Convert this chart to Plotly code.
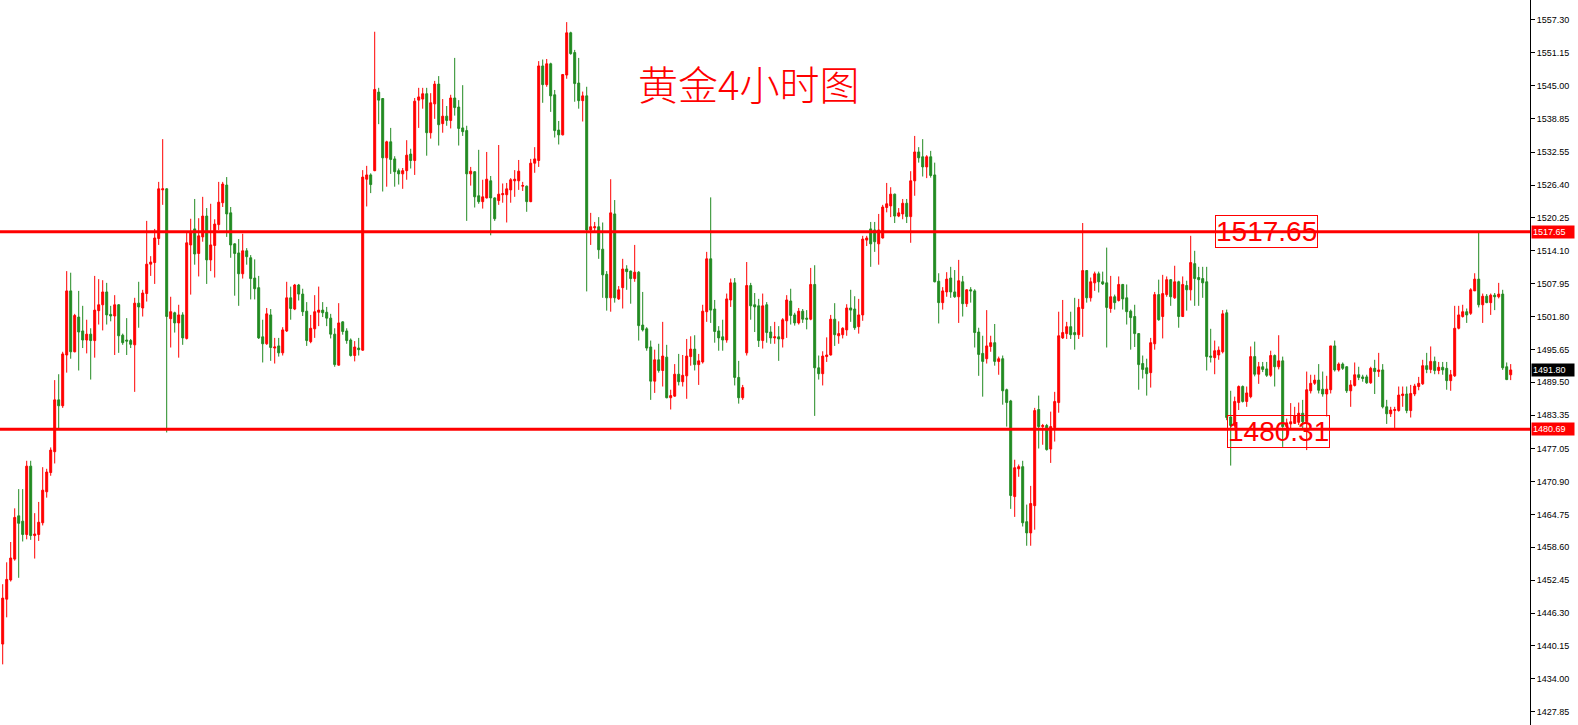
import plotly.graph_objects as go

open_ = [
1440.5, 1448.9, 1452.5, 1456.4, 1464.5, 1463.5, 1461.0, 1473.8, 1460.8, 1461.0,
1463.2, 1469.0, 1472.6, 1476.5, 1486.2, 1485.1, 1494.6, 1506.6, 1495.2, 1501.7,
1499.1, 1497.4, 1498.5, 1497.3, 1502.9, 1504.0, 1506.4, 1502.2, 1501.9, 1504.0,
1498.3, 1497.4, 1497.3, 1496.5, 1504.3, 1503.4, 1506.1, 1511.6, 1511.9, 1516.4,
1525.5, 1525.7, 1501.4, 1502.5, 1500.6, 1502.1, 1497.7, 1515.2, 1518.2, 1513.6,
1516.7, 1520.6, 1512.4, 1515.1, 1519.0, 1523.1, 1526.4, 1521.2, 1515.4, 1513.7,
1509.8, 1514.1, 1512.8, 1509.0, 1507.2, 1498.0, 1496.7, 1502.1, 1495.9, 1496.3,
1495.0, 1499.1, 1505.3, 1503.2, 1507.7, 1506.0, 1502.8, 1497.1, 1499.5, 1502.6,
1503.0, 1502.6, 1501.5, 1498.5, 1492.7, 1500.8, 1499.1, 1497.4, 1494.5, 1495.9,
1495.5, 1527.5, 1528.3, 1529.1, 1543.8, 1542.6, 1531.5, 1534.5, 1531.3, 1529.1,
1528.5, 1529.1, 1532.2, 1531.0, 1542.3, 1542.5, 1543.5, 1536.2, 1541.6, 1545.3,
1537.9, 1539.3, 1538.5, 1542.7, 1541.0, 1537.1, 1536.6, 1528.5, 1528.9, 1524.4,
1523.3, 1524.0, 1527.2, 1524.0, 1523.5, 1524.6, 1524.6, 1525.5, 1527.2, 1527.2,
1526.2, 1526.2, 1523.3, 1530.5, 1531.0, 1548.7, 1545.2, 1549.1, 1543.3, 1536.7,
1535.8, 1547.0, 1554.9, 1551.2, 1545.5, 1542.2, 1543.1, 1518.0, 1518.4, 1518.6,
1514.4, 1509.7, 1505.3, 1521.0, 1505.1, 1507.2, 1510.7, 1510.3, 1508.9, 1510.1,
1500.2, 1499.5, 1496.1, 1489.7, 1493.7, 1491.7, 1494.2, 1486.6, 1486.9, 1491.0,
1489.6, 1490.7, 1494.3, 1495.7, 1492.8, 1493.3, 1502.7, 1512.6, 1503.2, 1499.1,
1498.0, 1497.4, 1504.9, 1508.1, 1490.4, 1486.6, 1495.0, 1507.6, 1504.0, 1503.8,
1497.3, 1504.0, 1498.9, 1497.8, 1498.0, 1497.6, 1501.0, 1504.7, 1502.1, 1500.6,
1502.8, 1501.5, 1501.3, 1507.8, 1492.2, 1491.1, 1494.3, 1494.6, 1501.3, 1498.2,
1498.4, 1499.3, 1503.4, 1503.2, 1499.9, 1502.1, 1516.1, 1518.2, 1518.0, 1515.4,
1516.5, 1522.2, 1522.5, 1524.7, 1520.6, 1521.0, 1523.0, 1520.5, 1527.2, 1532.6,
1531.7, 1529.8, 1531.7, 1528.3, 1508.4, 1504.4, 1506.4, 1509.0, 1506.4, 1505.5,
1508.3, 1504.2, 1506.8, 1506.6, 1498.9, 1494.9, 1493.9, 1496.2, 1496.9, 1493.4,
1493.9, 1488.1, 1486.0, 1468.1, 1473.3, 1473.7, 1463.4, 1461.3, 1466.4, 1484.4,
1481.2, 1481.4, 1477.0, 1481.0, 1485.7, 1497.8, 1498.6, 1499.9, 1498.8, 1498.4,
1503.3, 1510.4, 1505.3, 1508.1, 1509.8, 1508.3, 1508.1, 1503.3, 1505.5, 1504.8,
1507.8, 1505.3, 1502.8, 1501.8, 1498.6, 1493.0, 1492.2, 1491.3, 1496.7, 1505.9,
1501.8, 1505.9, 1508.7, 1505.3, 1508.3, 1501.8, 1507.6, 1506.8, 1511.7, 1509.1,
1508.9, 1508.3, 1494.4, 1494.1, 1494.6, 1495.2, 1502.5, 1483.0, 1481.4, 1485.7,
1488.7, 1485.9, 1486.8, 1494.3, 1491.0, 1492.4, 1492.0, 1490.8, 1494.5, 1492.4,
1493.5, 1481.2, 1481.7, 1481.8, 1482.0, 1483.7, 1482.1, 1487.9, 1489.3, 1489.9,
1488.2, 1487.3, 1488.1, 1496.3, 1491.8, 1492.9, 1492.4, 1487.9, 1488.9, 1490.9,
1490.5, 1490.5, 1489.4, 1492.1, 1491.5, 1491.8, 1484.9, 1483.6, 1484.2, 1484.2,
1487.0, 1487.3, 1484.2, 1487.3, 1488.7, 1489.2, 1492.6, 1491.9, 1493.4, 1491.7,
1492.3, 1492.1, 1489.8, 1490.7, 1499.6, 1501.8, 1502.7, 1502.4, 1506.6, 1508.8,
1504.0, 1505.6, 1504.4, 1505.8, 1505.5, 1506.0, 1492.4, 1490.9,
]

high = [
1451.7, 1455.8, 1459.6, 1465.9, 1469.5, 1469.5, 1474.8, 1474.8, 1465.0, 1467.1,
1473.6, 1473.3, 1477.3, 1489.9, 1491.0, 1495.2, 1510.3, 1510.0, 1502.3, 1506.6,
1503.8, 1501.2, 1499.6, 1509.4, 1508.8, 1508.6, 1508.1, 1503.8, 1505.8, 1504.1,
1498.6, 1501.5, 1497.6, 1505.3, 1508.3, 1506.8, 1519.7, 1513.1, 1518.2, 1527.0,
1535.0, 1525.8, 1505.5, 1502.7, 1504.0, 1502.6, 1517.6, 1520.1, 1523.8, 1520.2,
1524.2, 1522.1, 1522.9, 1520.0, 1527.0, 1527.0, 1527.9, 1522.3, 1515.5, 1516.3,
1517.3, 1514.6, 1513.3, 1512.5, 1509.4, 1501.2, 1503.4, 1503.2, 1497.8, 1497.8,
1499.8, 1508.3, 1507.4, 1507.9, 1507.9, 1507.0, 1504.5, 1502.1, 1505.8, 1507.4,
1504.5, 1503.6, 1502.3, 1499.6, 1504.3, 1500.9, 1499.6, 1497.7, 1497.2, 1497.8,
1529.2, 1530.0, 1528.6, 1555.1, 1544.6, 1542.7, 1534.7, 1537.1, 1531.8, 1529.5,
1529.6, 1534.8, 1533.2, 1542.7, 1544.6, 1544.6, 1544.6, 1543.6, 1545.9, 1546.8,
1542.5, 1541.2, 1543.3, 1550.2, 1542.3, 1545.1, 1537.5, 1529.8, 1529.0, 1533.0,
1527.4, 1532.6, 1528.1, 1524.1, 1533.9, 1526.7, 1526.8, 1527.7, 1529.2, 1531.1,
1527.0, 1526.3, 1531.3, 1533.5, 1549.6, 1549.9, 1550.0, 1549.3, 1544.2, 1538.4,
1547.1, 1556.9, 1555.1, 1551.7, 1550.2, 1543.9, 1544.8, 1521.2, 1519.5, 1520.4,
1519.4, 1510.3, 1527.5, 1523.6, 1507.5, 1512.6, 1511.4, 1510.4, 1515.2, 1510.3,
1506.4, 1499.8, 1497.3, 1495.6, 1496.7, 1500.8, 1496.5, 1488.1, 1492.9, 1494.8,
1494.6, 1497.6, 1498.1, 1498.3, 1494.8, 1504.0, 1513.9, 1524.1, 1504.9, 1500.0,
1501.2, 1506.1, 1508.9, 1509.0, 1493.5, 1489.0, 1512.0, 1508.1, 1506.2, 1505.1,
1506.1, 1504.5, 1500.0, 1500.8, 1500.0, 1501.5, 1505.8, 1507.0, 1502.5, 1503.4,
1503.2, 1503.0, 1510.9, 1511.4, 1494.5, 1495.3, 1497.9, 1502.1, 1504.3, 1500.9,
1499.8, 1504.1, 1506.8, 1505.6, 1505.1, 1516.9, 1516.9, 1519.5, 1519.5, 1521.0,
1522.7, 1526.8, 1526.0, 1524.8, 1522.1, 1523.8, 1523.8, 1529.0, 1535.6, 1533.5,
1535.0, 1532.0, 1532.8, 1530.6, 1509.9, 1507.3, 1510.1, 1511.1, 1510.5, 1512.4,
1509.4, 1506.9, 1507.3, 1506.9, 1499.7, 1498.2, 1503.0, 1498.2, 1500.4, 1494.3,
1494.5, 1488.3, 1486.2, 1475.0, 1474.1, 1474.8, 1466.6, 1470.1, 1484.7, 1487.0,
1481.7, 1481.7, 1484.0, 1487.7, 1502.7, 1504.9, 1500.8, 1502.7, 1505.3, 1505.1,
1519.3, 1510.5, 1509.1, 1510.2, 1510.2, 1510.2, 1514.7, 1509.4, 1505.9, 1509.3,
1507.9, 1507.8, 1503.1, 1504.0, 1498.7, 1494.5, 1493.9, 1497.8, 1506.4, 1508.7,
1509.6, 1509.3, 1508.8, 1511.3, 1508.5, 1509.3, 1508.5, 1516.9, 1514.1, 1511.1,
1511.1, 1511.1, 1499.5, 1497.3, 1496.2, 1503.0, 1503.1, 1487.9, 1486.8, 1488.9,
1488.9, 1488.7, 1496.2, 1497.1, 1493.3, 1493.3, 1493.3, 1495.4, 1494.7, 1498.3,
1494.3, 1482.7, 1485.6, 1484.9, 1485.7, 1486.2, 1491.5, 1490.9, 1490.9, 1492.9,
1491.5, 1490.7, 1496.3, 1497.3, 1493.2, 1493.2, 1492.5, 1489.9, 1493.2, 1492.4,
1490.9, 1490.9, 1492.4, 1493.7, 1495.0, 1492.9, 1486.2, 1484.9, 1484.9, 1488.7,
1488.7, 1488.7, 1489.0, 1489.2, 1490.5, 1493.7, 1495.0, 1496.2, 1494.3, 1493.3,
1493.3, 1493.3, 1491.8, 1503.8, 1503.8, 1504.0, 1503.3, 1507.1, 1509.9, 1517.8,
1506.1, 1506.0, 1506.1, 1506.2, 1508.1, 1506.8, 1493.2, 1492.9,
]

low = [
1436.7, 1445.5, 1452.2, 1456.1, 1452.9, 1459.7, 1460.1, 1460.0, 1456.5, 1459.8,
1462.7, 1467.9, 1472.0, 1474.3, 1480.7, 1484.7, 1491.3, 1493.9, 1495.1, 1491.7,
1495.9, 1494.9, 1490.0, 1494.1, 1500.3, 1499.2, 1500.3, 1500.9, 1494.6, 1495.0,
1496.5, 1494.6, 1495.9, 1487.7, 1499.7, 1501.8, 1504.6, 1509.4, 1507.9, 1515.2,
1522.7, 1480.1, 1496.0, 1498.8, 1494.1, 1496.5, 1497.5, 1505.9, 1511.5, 1509.3,
1515.8, 1507.9, 1510.3, 1509.1, 1518.0, 1522.3, 1516.7, 1512.8, 1505.7, 1503.8,
1508.9, 1511.5, 1505.0, 1505.0, 1497.6, 1493.2, 1496.5, 1493.5, 1493.0, 1494.3,
1494.5, 1498.9, 1501.2, 1503.0, 1504.8, 1501.9, 1496.3, 1496.8, 1497.8, 1500.0,
1501.7, 1500.0, 1497.7, 1492.4, 1492.6, 1498.4, 1496.7, 1494.3, 1493.4, 1494.5,
1495.4, 1522.4, 1524.9, 1529.0, 1537.8, 1525.2, 1526.1, 1528.5, 1526.1, 1526.5,
1525.7, 1527.4, 1529.5, 1528.3, 1537.1, 1540.7, 1531.9, 1535.1, 1538.8, 1533.8,
1536.2, 1537.5, 1537.0, 1539.4, 1533.8, 1535.6, 1519.7, 1526.3, 1522.2, 1522.9,
1522.0, 1523.9, 1517.0, 1519.7, 1522.7, 1523.1, 1519.4, 1523.1, 1524.2, 1525.5,
1525.3, 1521.4, 1523.2, 1528.7, 1529.8, 1541.8, 1544.8, 1540.1, 1535.3, 1534.0,
1535.7, 1546.3, 1550.8, 1542.0, 1540.7, 1538.3, 1506.5, 1515.2, 1517.8, 1512.6,
1505.3, 1502.9, 1502.7, 1504.4, 1504.9, 1503.3, 1506.8, 1504.2, 1508.3, 1497.3,
1499.0, 1495.4, 1486.2, 1487.5, 1491.3, 1488.7, 1486.5, 1484.4, 1486.8, 1488.9,
1488.7, 1486.4, 1492.6, 1491.7, 1489.0, 1493.0, 1500.8, 1500.6, 1496.9, 1495.4,
1495.4, 1496.9, 1503.6, 1488.9, 1485.5, 1486.2, 1494.5, 1501.2, 1498.9, 1496.1,
1495.8, 1496.9, 1496.7, 1496.7, 1493.5, 1496.0, 1497.8, 1500.3, 1500.1, 1500.3,
1500.6, 1499.4, 1501.1, 1483.2, 1490.0, 1488.9, 1493.3, 1494.5, 1496.3, 1496.7,
1497.7, 1498.2, 1500.8, 1499.3, 1498.6, 1501.0, 1515.0, 1511.1, 1513.9, 1511.5,
1516.4, 1521.3, 1520.4, 1519.3, 1520.4, 1520.0, 1519.3, 1515.6, 1524.4, 1530.6,
1528.0, 1527.7, 1527.8, 1508.2, 1500.5, 1503.1, 1505.5, 1505.3, 1505.3, 1500.6,
1501.8, 1503.6, 1504.4, 1496.0, 1490.7, 1486.8, 1493.0, 1495.2, 1492.6, 1490.9,
1485.3, 1481.2, 1465.8, 1464.3, 1471.8, 1462.5, 1458.9, 1458.9, 1461.9, 1477.1,
1477.8, 1476.7, 1474.4, 1478.4, 1483.8, 1497.6, 1497.6, 1497.6, 1495.6, 1497.6,
1498.0, 1504.4, 1504.6, 1506.6, 1506.3, 1507.7, 1496.0, 1502.5, 1503.1, 1504.6,
1503.1, 1500.3, 1495.6, 1496.1, 1488.1, 1490.2, 1487.0, 1488.5, 1495.6, 1501.0,
1497.7, 1505.5, 1503.8, 1505.1, 1499.7, 1501.7, 1502.9, 1504.8, 1503.8, 1503.8,
1505.3, 1491.7, 1493.2, 1491.0, 1493.7, 1494.9, 1482.4, 1473.9, 1481.0, 1484.3,
1485.7, 1484.9, 1486.5, 1490.6, 1489.2, 1491.4, 1490.5, 1490.5, 1488.7, 1491.9,
1477.4, 1479.2, 1480.9, 1481.7, 1481.5, 1480.9, 1476.8, 1487.4, 1489.0, 1487.4,
1486.8, 1483.1, 1487.4, 1491.5, 1491.5, 1491.8, 1487.5, 1484.9, 1488.7, 1489.9,
1489.6, 1489.2, 1489.2, 1487.3, 1490.5, 1484.6, 1481.7, 1483.0, 1480.7, 1484.0,
1484.9, 1483.7, 1482.9, 1486.9, 1488.0, 1489.0, 1491.2, 1491.2, 1491.0, 1491.0,
1490.9, 1488.1, 1487.9, 1490.5, 1499.4, 1501.6, 1500.6, 1502.1, 1506.6, 1503.5,
1500.6, 1504.3, 1502.1, 1503.0, 1505.2, 1491.8, 1489.9, 1489.9,
]

close = [
1449.1, 1452.6, 1456.6, 1464.2, 1463.1, 1461.0, 1473.8, 1460.8, 1461.1, 1463.3,
1469.3, 1472.7, 1476.8, 1486.2, 1485.1, 1494.8, 1506.6, 1495.2, 1502.0, 1498.9,
1497.4, 1498.5, 1497.3, 1503.0, 1504.0, 1506.4, 1502.1, 1501.9, 1504.0, 1498.2,
1496.9, 1497.2, 1496.6, 1504.3, 1503.6, 1506.2, 1511.6, 1512.0, 1516.5, 1525.7,
1525.7, 1501.8, 1502.7, 1500.6, 1502.1, 1497.8, 1515.6, 1517.7, 1513.5, 1516.9,
1520.6, 1512.4, 1515.2, 1519.1, 1523.2, 1526.6, 1521.0, 1515.2, 1513.6, 1509.8,
1514.1, 1513.0, 1508.9, 1507.0, 1497.8, 1496.7, 1502.3, 1496.0, 1496.1, 1495.0,
1499.3, 1505.3, 1503.3, 1507.7, 1506.0, 1502.7, 1497.3, 1499.6, 1502.7, 1503.0,
1502.5, 1501.5, 1498.5, 1492.8, 1500.6, 1499.0, 1497.3, 1494.5, 1496.1, 1495.6,
1527.9, 1528.3, 1526.5, 1544.3, 1542.3, 1531.5, 1534.5, 1531.2, 1528.9, 1528.5,
1529.1, 1532.0, 1531.0, 1542.1, 1542.9, 1543.5, 1536.2, 1541.8, 1545.3, 1537.7,
1539.3, 1538.5, 1542.7, 1540.9, 1537.0, 1536.4, 1528.5, 1529.0, 1524.2, 1523.3,
1524.2, 1527.5, 1524.0, 1520.1, 1524.7, 1524.8, 1525.7, 1527.4, 1527.5, 1529.0,
1526.3, 1523.3, 1530.5, 1531.3, 1548.7, 1545.2, 1549.1, 1543.1, 1536.6, 1535.8,
1547.1, 1554.9, 1551.0, 1545.4, 1542.2, 1543.1, 1518.0, 1518.6, 1518.6, 1514.3,
1509.6, 1505.3, 1521.2, 1505.3, 1506.8, 1510.7, 1510.2, 1508.9, 1510.1, 1500.1,
1499.3, 1495.9, 1489.7, 1493.7, 1491.7, 1494.4, 1486.6, 1487.0, 1491.0, 1489.6,
1490.8, 1494.4, 1495.7, 1492.8, 1493.5, 1502.8, 1512.6, 1503.0, 1499.0, 1497.8,
1497.4, 1505.1, 1508.1, 1490.4, 1486.6, 1488.5, 1507.6, 1503.8, 1503.6, 1497.3,
1503.8, 1498.8, 1497.8, 1498.0, 1497.6, 1501.2, 1504.9, 1502.0, 1500.6, 1502.8,
1501.3, 1501.3, 1507.8, 1492.2, 1491.1, 1494.4, 1494.6, 1501.3, 1498.4, 1498.6,
1499.6, 1503.4, 1503.0, 1499.7, 1502.1, 1516.3, 1516.5, 1515.4, 1515.8, 1518.0,
1522.3, 1522.9, 1524.7, 1520.6, 1521.2, 1523.0, 1520.5, 1527.2, 1532.6, 1531.5,
1529.8, 1531.7, 1528.2, 1508.3, 1504.4, 1506.6, 1508.8, 1506.4, 1505.5, 1508.5,
1504.2, 1506.8, 1506.6, 1498.8, 1494.7, 1493.4, 1496.3, 1496.9, 1493.4, 1493.9,
1487.9, 1485.7, 1468.3, 1473.5, 1473.7, 1463.2, 1461.3, 1466.8, 1484.2, 1481.2,
1481.4, 1476.9, 1481.2, 1485.9, 1498.2, 1498.8, 1499.9, 1498.4, 1498.4, 1503.5,
1510.4, 1505.3, 1508.3, 1509.8, 1508.3, 1507.9, 1503.5, 1505.5, 1504.4, 1507.8,
1505.1, 1502.7, 1501.6, 1498.6, 1492.8, 1491.9, 1491.1, 1496.9, 1505.9, 1501.2,
1506.1, 1508.7, 1505.5, 1508.3, 1501.8, 1507.8, 1506.8, 1511.9, 1508.9, 1508.7,
1508.1, 1494.3, 1494.2, 1495.4, 1495.5, 1502.3, 1482.9, 1481.4, 1485.9, 1488.7,
1485.9, 1487.5, 1494.3, 1491.0, 1492.4, 1491.9, 1490.8, 1494.5, 1492.4, 1493.5,
1481.2, 1481.9, 1482.1, 1483.2, 1483.7, 1482.1, 1488.1, 1489.3, 1489.9, 1488.0,
1487.3, 1488.2, 1496.3, 1491.8, 1492.9, 1492.1, 1487.9, 1489.0, 1490.9, 1490.4,
1490.2, 1489.4, 1492.1, 1491.5, 1491.8, 1484.9, 1483.6, 1484.3, 1484.4, 1487.1,
1487.3, 1484.2, 1487.4, 1488.8, 1489.3, 1492.6, 1491.9, 1493.4, 1491.7, 1492.3,
1491.8, 1489.8, 1490.9, 1499.6, 1502.1, 1502.7, 1502.1, 1506.8, 1508.8, 1504.0,
1505.6, 1504.4, 1505.8, 1505.5, 1506.0, 1492.2, 1490.0, 1491.8,
]

assert len(open_) == len(high) == len(low) == len(close), (len(open_), len(high), len(low), len(close))

bars = list(range(len(close)))

tick_vals = [1557.30, 1551.15, 1545.00, 1538.85, 1532.55, 1526.40, 1520.25, 1514.10,
             1507.95, 1501.80, 1495.65, 1489.50, 1483.35, 1477.05, 1470.90, 1464.75,
             1458.60, 1452.45, 1446.30, 1440.15, 1434.00, 1427.85]
tick_text = ["%.2f" % v for v in tick_vals]

resistance = 1517.65
support = 1480.69
support_label = 1480.31
last_price = close[-1]
title_text = "黄金4小时图"

RED = "#FF0000"
GREEN = "#228B22"

fig = go.Figure(go.Candlestick(
    x=bars, open=open_, high=high, low=low, close=close,
    increasing=dict(line=dict(color=RED, width=1), fillcolor=RED),
    decreasing=dict(line=dict(color=GREEN, width=1), fillcolor=GREEN),
    whiskerwidth=0, hoverinfo="skip", showlegend=False,
))

fig.add_shape(type="line", xref="paper", x0=0, x1=1, yref="y", y0=resistance, y1=resistance,
              line=dict(color=RED, width=3))
fig.add_shape(type="line", xref="paper", x0=0, x1=1, yref="y", y0=support, y1=support,
              line=dict(color=RED, width=3))

annotations = [
    dict(text=title_text, xref="paper", yref="paper", x=0.489, y=0.885,
         xanchor="center", yanchor="middle", showarrow=False,
         font=dict(family="Noto Sans CJK SC", size=40, color=RED, weight=300)),
    dict(text="%.2f" % resistance, xref="paper", yref="y", x=0.8277, y=resistance,
         xanchor="center", yanchor="middle", showarrow=False,
         bordercolor=RED, borderwidth=1, borderpad=0,
         font=dict(family="Liberation Sans", size=28, color=RED)),
    dict(text="%.2f" % support_label, xref="paper", yref="y", x=0.8355, y=support_label,
         xanchor="center", yanchor="middle", showarrow=False,
         bordercolor=RED, borderwidth=1, borderpad=0,
         font=dict(family="Liberation Sans", size=28, color=RED)),
]
for val, bg in [(resistance, RED), (last_price, "#000000"), (support, RED)]:
    annotations.append(dict(
        text="%.2f" % val, xref="paper", yref="y", x=1, y=val, xanchor="left", yanchor="middle",
        xshift=1, showarrow=False, bgcolor=bg, borderpad=1, width=40, align="left",
        font=dict(family="Liberation Sans", size=9, color="#FFFFFF")))

fig.update_layout(
    width=1578, height=725,
    margin=dict(l=0, r=48, t=0, b=0, pad=0),
    paper_bgcolor="white", plot_bgcolor="white",
    showlegend=False,
    annotations=annotations,
    xaxis=dict(range=[-0.675, 381.825], visible=False, rangeslider=dict(visible=False),
               showgrid=False, zeroline=False),
    yaxis=dict(side="right", range=[1425.35, 1561.04], tickvals=tick_vals, ticktext=tick_text,
               ticks="outside", ticklen=4, tickcolor="black", tickwidth=1,
               showline=True, linecolor="black", linewidth=1,
               showgrid=False, zeroline=False,
               tickfont=dict(family="Liberation Sans", size=9, color="black")),
)

fig.write_html("out.html", config={"displayModeBar": False},
               post_script="document.body.style.margin='0';document.body.style.overflow='hidden';")
